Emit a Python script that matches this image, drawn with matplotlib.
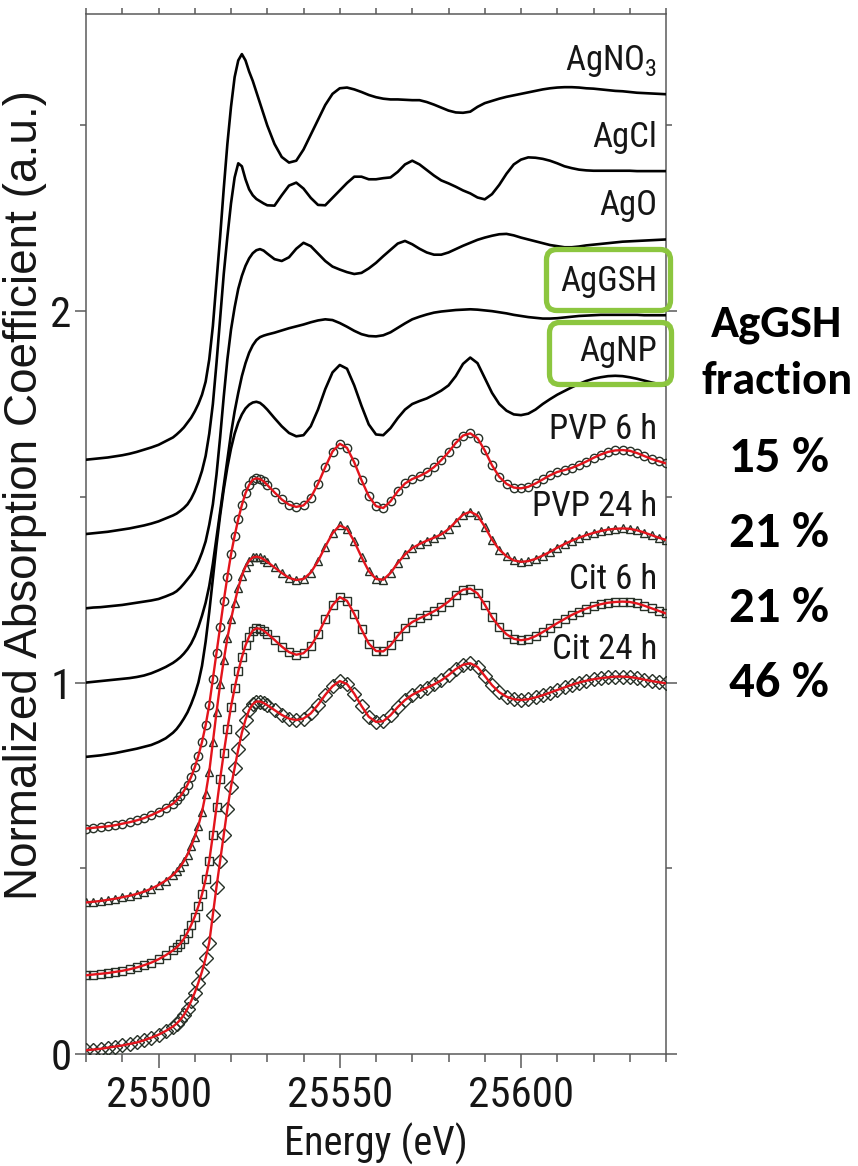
import numpy as np
import matplotlib.pyplot as plt
from matplotlib.patches import FancyBboxPatch
from matplotlib.ticker import MultipleLocator

# energy grid (eV): 2 eV steps, 1 eV through the edge
energy = np.r_[np.arange(25480, 25504, 2), np.arange(25504, 25531, 1), np.arange(25532, 25641, 2)]

# normalized XANES spectra (no vertical offset)
agno3 = np.array([
    0.000, 0.002, 0.004, 0.006, 0.009, 0.012, 0.016, 0.021, 0.027, 0.033, 0.040, 0.050,
    0.060, 0.068, 0.077, 0.087, 0.100, 0.113, 0.130, 0.150, 0.175, 0.210, 0.270, 0.360, 0.480, 0.600,
    0.730, 0.850, 0.950, 1.030, 1.075, 1.092, 1.075, 1.045, 1.020, 0.990, 0.960, 0.930, 0.900,
    0.850, 0.815, 0.800, 0.805, 0.835, 0.875, 0.915, 0.955, 0.985, 1.000, 1.002, 0.997, 0.990, 0.982,
    0.976, 0.972, 0.970, 0.970, 0.969, 0.968, 0.968, 0.963, 0.956, 0.948, 0.940, 0.935, 0.934,
    0.937, 0.950, 0.960, 0.966, 0.972, 0.977, 0.981, 0.985, 0.989, 0.993, 0.997, 1.000, 1.002, 1.003,
    1.003, 1.002, 1.000, 0.999, 0.997, 0.995, 0.993, 0.992, 0.990, 0.988, 0.987, 0.986, 0.985, 0.984])

agcl = np.array([
    0.000, 0.002, 0.004, 0.006, 0.009, 0.012, 0.015, 0.019, 0.023, 0.028, 0.034, 0.042,
    0.050, 0.055, 0.062, 0.070, 0.080, 0.095, 0.115, 0.140, 0.170, 0.210, 0.270, 0.350, 0.460, 0.580,
    0.700, 0.800, 0.890, 0.960, 0.998, 0.990, 0.955, 0.928, 0.912, 0.902, 0.896, 0.890, 0.885,
    0.884, 0.912, 0.938, 0.946, 0.930, 0.905, 0.886, 0.885, 0.905, 0.925, 0.945, 0.962, 0.962, 0.955,
    0.955, 0.958, 0.960, 0.975, 0.995, 1.005, 0.995, 0.980, 0.965, 0.952, 0.944, 0.935, 0.925,
    0.917, 0.906, 0.901, 0.915, 0.940, 0.970, 0.995, 1.008, 1.014, 1.013, 1.010, 1.005, 0.998, 0.990,
    0.985, 0.981, 0.979, 0.978, 0.978, 0.978, 0.978, 0.978, 0.978, 0.977, 0.977, 0.977, 0.977, 0.977])

ago = np.array([
    0.000, 0.002, 0.003, 0.005, 0.007, 0.009, 0.012, 0.015, 0.018, 0.021, 0.025, 0.032,
    0.040, 0.046, 0.055, 0.066, 0.078, 0.090, 0.105, 0.125, 0.150, 0.180, 0.225, 0.280, 0.360, 0.460,
    0.570, 0.670, 0.750, 0.810, 0.860, 0.895, 0.922, 0.942, 0.956, 0.964, 0.967, 0.963, 0.955,
    0.940, 0.935, 0.945, 0.968, 0.984, 0.975, 0.955, 0.935, 0.920, 0.912, 0.905, 0.900, 0.903, 0.915,
    0.930, 0.948, 0.965, 0.982, 0.989, 0.980, 0.968, 0.958, 0.952, 0.952, 0.958, 0.967, 0.976,
    0.984, 0.992, 0.998, 1.003, 1.007, 1.008, 1.004, 0.998, 0.993, 0.988, 0.983, 0.978, 0.975, 0.972,
    0.972, 0.974, 0.977, 0.979, 0.981, 0.983, 0.985, 0.987, 0.988, 0.989, 0.990, 0.991, 0.992, 0.993])

aggsh = np.array([
    0.000, 0.002, 0.004, 0.006, 0.008, 0.010, 0.012, 0.015, 0.019, 0.025, 0.033, 0.042,
    0.053, 0.060, 0.068, 0.078, 0.090, 0.105, 0.125, 0.150, 0.180, 0.215, 0.260, 0.320, 0.390, 0.460,
    0.530, 0.600, 0.670, 0.730, 0.780, 0.825, 0.860, 0.888, 0.908, 0.922, 0.930, 0.934, 0.937,
    0.942, 0.948, 0.954, 0.959, 0.964, 0.970, 0.975, 0.978, 0.976, 0.968, 0.958, 0.947, 0.938, 0.933,
    0.932, 0.935, 0.943, 0.955, 0.967, 0.978, 0.985, 0.991, 0.996, 0.999, 1.001, 1.003, 1.004,
    1.005, 1.004, 1.002, 1.000, 0.997, 0.994, 0.990, 0.987, 0.984, 0.982, 0.980, 0.980, 0.981, 0.983,
    0.985, 0.987, 0.988, 0.989, 0.990, 0.990, 0.990, 0.990, 0.990, 0.990, 0.989, 0.989, 0.989, 0.989])

agnp = np.array([
    0.000, 0.002, 0.004, 0.007, 0.010, 0.014, 0.018, 0.022, 0.027, 0.032, 0.040, 0.050,
    0.065, 0.075, 0.088, 0.103, 0.120, 0.142, 0.168, 0.200, 0.245, 0.310, 0.390, 0.480, 0.570, 0.650,
    0.720, 0.780, 0.830, 0.870, 0.900, 0.922, 0.938, 0.948, 0.954, 0.956, 0.953, 0.945, 0.935,
    0.912, 0.890, 0.872, 0.863, 0.866, 0.890, 0.935, 0.990, 1.035, 1.055, 1.045, 1.000, 0.945, 0.895,
    0.868, 0.866, 0.885, 0.912, 0.935, 0.950, 0.958, 0.965, 0.975, 0.986, 1.000, 1.025, 1.058,
    1.075, 1.060, 1.020, 0.980, 0.950, 0.932, 0.922, 0.920, 0.924, 0.935, 0.950, 0.963, 0.975, 0.985,
    0.995, 1.004, 1.012, 1.018, 1.022, 1.025, 1.026, 1.025, 1.022, 1.018, 1.013, 1.008, 1.004, 1.000])

pvp_6h = np.array([
    0.007, 0.009, 0.011, 0.013, 0.016, 0.020, 0.024, 0.029, 0.035, 0.043, 0.052, 0.062,
    0.074, 0.083, 0.094, 0.108, 0.125, 0.146, 0.172, 0.203, 0.240, 0.285, 0.340, 0.410, 0.480, 0.550,
    0.620, 0.685, 0.745, 0.795, 0.840, 0.878, 0.910, 0.932, 0.946, 0.950, 0.948, 0.942, 0.932,
    0.912, 0.893, 0.879, 0.873, 0.877, 0.898, 0.935, 0.980, 1.022, 1.043, 1.032, 0.993, 0.945, 0.902,
    0.875, 0.870, 0.888, 0.915, 0.936, 0.948, 0.956, 0.966, 0.980, 0.999, 1.020, 1.045, 1.065,
    1.071, 1.058, 1.025, 0.985, 0.954, 0.935, 0.925, 0.923, 0.927, 0.936, 0.947, 0.958, 0.967, 0.972,
    0.978, 0.986, 0.995, 1.005, 1.014, 1.021, 1.025, 1.026, 1.024, 1.018, 1.010, 1.002, 0.996, 0.990])

pvp_24h = np.array([
    0.008, 0.010, 0.012, 0.015, 0.018, 0.022, 0.026, 0.031, 0.037, 0.045, 0.055, 0.067,
    0.082, 0.092, 0.104, 0.119, 0.137, 0.159, 0.185, 0.215, 0.252, 0.300, 0.360, 0.440, 0.520, 0.595,
    0.660, 0.720, 0.770, 0.815, 0.855, 0.888, 0.912, 0.928, 0.937, 0.939, 0.937, 0.932, 0.925,
    0.910, 0.895, 0.882, 0.876, 0.879, 0.896, 0.927, 0.966, 1.002, 1.023, 1.014, 0.980, 0.938, 0.900,
    0.879, 0.877, 0.895, 0.922, 0.945, 0.962, 0.973, 0.982, 0.990, 0.999, 1.013, 1.033, 1.052,
    1.060, 1.050, 1.020, 0.985, 0.958, 0.940, 0.929, 0.925, 0.927, 0.933, 0.942, 0.952, 0.963, 0.973,
    0.982, 0.990, 0.997, 1.003, 1.008, 1.012, 1.014, 1.015, 1.014, 1.010, 1.004, 0.997, 0.990, 0.984])

cit_6h = np.array([
    0.012, 0.014, 0.016, 0.018, 0.021, 0.024, 0.028, 0.033, 0.039, 0.046, 0.055, 0.066,
    0.079, 0.087, 0.097, 0.110, 0.127, 0.147, 0.170, 0.198, 0.230, 0.270, 0.320, 0.390, 0.465, 0.540,
    0.610, 0.675, 0.735, 0.785, 0.830, 0.868, 0.900, 0.924, 0.940, 0.946, 0.945, 0.940, 0.932,
    0.915, 0.897, 0.882, 0.875, 0.879, 0.898, 0.930, 0.970, 1.008, 1.030, 1.020, 0.985, 0.943, 0.905,
    0.885, 0.884, 0.900, 0.926, 0.948, 0.963, 0.973, 0.982, 0.992, 1.004, 1.018, 1.036, 1.050,
    1.053, 1.040, 1.010, 0.976, 0.950, 0.930, 0.918, 0.914, 0.917, 0.925, 0.936, 0.948, 0.960, 0.971,
    0.982, 0.991, 0.999, 1.006, 1.011, 1.015, 1.017, 1.018, 1.017, 1.013, 1.007, 1.000, 0.993, 0.986])

cit_24h = np.array([
    0.010, 0.012, 0.014, 0.017, 0.020, 0.023, 0.027, 0.031, 0.037, 0.044, 0.052, 0.062,
    0.074, 0.082, 0.092, 0.105, 0.122, 0.142, 0.165, 0.192, 0.222, 0.258, 0.300, 0.375, 0.450, 0.520,
    0.590, 0.660, 0.720, 0.770, 0.820, 0.865, 0.900, 0.926, 0.942, 0.949, 0.949, 0.945, 0.939,
    0.926, 0.913, 0.903, 0.899, 0.903, 0.917, 0.940, 0.967, 0.990, 1.004, 0.996, 0.970, 0.937, 0.908,
    0.894, 0.896, 0.912, 0.934, 0.953, 0.967, 0.977, 0.986, 0.995, 1.006, 1.020, 1.036, 1.048,
    1.052, 1.042, 1.018, 0.993, 0.974, 0.962, 0.955, 0.953, 0.955, 0.960, 0.966, 0.973, 0.980, 0.987,
    0.994, 1.000, 1.005, 1.009, 1.012, 1.014, 1.016, 1.016, 1.015, 1.012, 1.008, 1.004, 1.001, 0.998])

ref_names = ['AgNO$_3$', 'AgCl', 'AgO', 'AgGSH', 'AgNP']
ref_spectra = [agno3, agcl, ago, aggsh, agnp]
ref_offsets = [1.6, 1.4, 1.2, 1.0, 0.8]

sample_names = ['PVP 6 h', 'PVP 24 h', 'Cit 6 h', 'Cit 24 h']
sample_spectra = [pvp_6h, pvp_24h, cit_6h, cit_24h]
sample_offsets = [0.6, 0.4, 0.2, 0.0]
sample_markers = ['o', '^', 's', 'D']

gsh_fraction = [15, 21, 21, 46]

cond = ['Roboto Condensed', 'DejaVu Sans']
plt.rcParams['mathtext.fontset'] = 'custom'
plt.rcParams['mathtext.rm'] = 'Roboto Condensed'
green = '#8cc63f'
axis_grey = '#5a5a5a'
ink = '#161616'

fig = plt.figure(figsize=(8.58, 11.66), dpi=100)
W, H = 858, 1166
ax = fig.add_axes([86 / W, 1 - 1054 / H, 580 / W, 1040 / H])

lab_x = 25637.5
for name, spec, off in zip(ref_names, ref_spectra, ref_offsets):
    ax.plot(energy, spec + off, color='black', lw=1.9, zorder=3)
    ax.text(lab_x, off + spec[-1] + 0.065, name, ha='right', va='baseline',
            fontsize=25, family=cond, color=ink, zorder=5)

for name, spec, off, m in zip(sample_names, sample_spectra, sample_offsets, sample_markers):
    ms = 7.0 if m == 'D' else 6.0
    ax.plot(energy, spec + off, ls='none', marker=m, ms=ms, mfc='none',
            mec='#263026', mew=1.0, zorder=3)
    ax.plot(energy, spec + off, color='#e3141c', lw=1.7, zorder=4)
    ax.text(lab_x, off + spec[-1] + 0.065, name, ha='right', va='baseline',
            fontsize=25, family=cond, color=ink, zorder=5)

ax.set_xlim(25480, 25640)
ax.set_ylim(0, 2.8)
ax.xaxis.set_major_locator(MultipleLocator(50))
ax.xaxis.set_minor_locator(MultipleLocator(10))
ax.yaxis.set_major_locator(MultipleLocator(1))
ax.yaxis.set_minor_locator(MultipleLocator(0.5))

for sp in ax.spines.values():
    sp.set_color(axis_grey)
    sp.set_linewidth(1.1)

ax.tick_params(which='both', direction='out', color=axis_grey, width=1.1,
               left=True, right=True, top=False, bottom=True, labelsize=31)
ax.tick_params(axis='x', which='major', length=10, pad=5)
ax.tick_params(axis='x', which='minor', length=5.5)
ax.tick_params(axis='y', which='major', length=8, pad=2.5)
ax.tick_params(axis='y', which='minor', length=4.5)
for lab in ax.get_xticklabels() + ax.get_yticklabels():
    lab.set_family(cond)
    lab.set_color(ink)

top = ax.secondary_xaxis('top')
top.xaxis.set_major_locator(MultipleLocator(10))
top.tick_params(direction='out', length=4.5, color=axis_grey, width=1.1, labeltop=False)
top.spines['top'].set_visible(False)

ax.set_xlabel('Energy (eV)', fontsize=29, family=cond, color=ink, labelpad=5)
fig.text(25.5 / W, 1 - 495 / H, 'Normalized Absorption Coefficient (a.u.)', rotation=90,
         ha='center', va='center', fontsize=33, family=['Liberation Sans', 'DejaVu Sans'],
         color=ink)

# green boxes around the two fit components
for x0, y0, x1, y1 in [(546.5, 249.5, 670.5, 310.5), (549.5, 322.5, 671.5, 384.5)]:
    box = FancyBboxPatch((x0 / W, 1 - y1 / H), (x1 - x0) / W, (y1 - y0) / H,
                         boxstyle='round,pad=0,rounding_size=0.012',
                         transform=fig.transFigure, fill=False, ec=green, lw=3.8,
                         mutation_aspect=W / H, zorder=10)
    fig.add_artist(box)

bold = ['Carlito', 'DejaVu Sans']
fig.text(777 / W, 1 - 337 / H, 'AgGSH', ha='center', va='baseline', fontsize=33.5,
         fontweight='bold', family=bold)
fig.text(777 / W, 1 - 394 / H, 'fraction', ha='center', va='baseline', fontsize=33.5,
         fontweight='bold', family=bold)
for frac, y_base in zip(gsh_fraction, [472, 547, 622, 697]):
    fig.text(779 / W, 1 - y_base / H, f'{frac} %', ha='center', va='baseline',
             fontsize=36.5, fontweight='bold', family=bold)

fig.savefig('out.png', dpi=100)
